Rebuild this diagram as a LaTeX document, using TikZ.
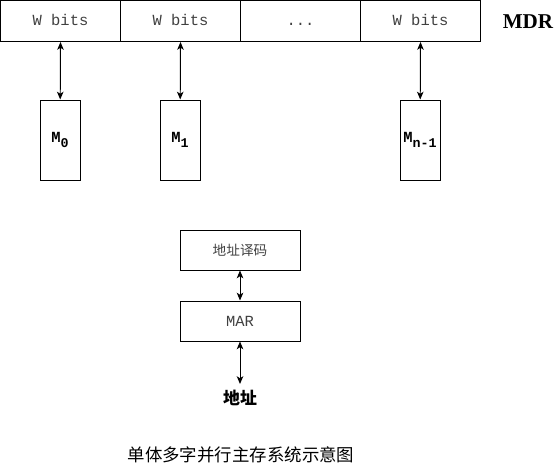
\documentclass[tikz,border=0pt]{standalone}
\usepackage{fontspec}
\setmainfont{Liberation Serif}
\setmonofont{Liberation Mono}
\newfontfamily\cjk{Noto Sans CJK SC}
\usetikzlibrary{positioning, arrows.meta}
\newcommand{\lowidx}[1]{\raisebox{-0.55ex}{\fontsize{9.5}{9.5}\selectfont #1}}

\begin{document}
\begin{tikzpicture}[line width=0.7pt, >={Stealth[length=5.5pt, width=4.6pt, inset=1.4pt]},
	cell/.style = {draw, minimum width=3cm, minimum height=1.025cm, inner sep=0pt, text height=6.5pt, text depth=0.3pt, text=black!75, font=\ttfamily\fontsize{11}{11}\selectfont},
	bank/.style = {draw, minimum width=1cm, minimum height=2cm, inner sep=0pt, font=\ttfamily\bfseries\fontsize{11}{11}\selectfont},
	unit/.style = {draw, minimum width=3cm, minimum height=1cm, inner sep=0pt, text=black!75}]
	\useasboundingbox (0,0) rectangle (13.925,-11.775);
	% MDR cells
	\node[cell] (w0) at (1.5125,-0.525) {W bits};
	\node[cell] (w1) at (4.5125,-0.525) {W bits};
	\node[cell] (w2) at (7.5125,-0.525) {...};
	\node[cell] (w3) at (10.5125,-0.525) {W bits};
	\node[font=\bfseries\fontsize{15}{15}\selectfont] (mdr) at (13.2,-0.55) {MDR};
	% banks
	\node[bank] (m0) at (1.5,-3.5) {M\lowidx{0}};
	\node[bank] (m1) at (4.5,-3.5) {M\lowidx{1}};
	\node[bank] (m3) at (10.5,-3.5) {M\lowidx{n-1}};
	\draw[<->] (w0.south) -- (m0);
	\draw[<->] (w1.south) -- (m1);
	\draw[<->] (w3.south) -- (m3);
	% address path
	\node[unit, font=\cjk\fontsize{9.7}{10}\selectfont] (dec) at (6,-6.25) {地址译码};
	\node[unit, below=0.75cm of dec, font=\ttfamily\fontsize{11}{11}\selectfont] (mar) {MAR};
	\draw[<->] (dec) -- (mar);
	\coordinate (bus) at (6,-9.6);
	\draw[<->] (mar) -- (bus);
	\node[font=\cjk\bfseries\fontsize{12}{12}\selectfont] (addr) at (6,-9.95) {地址};
	\node[font=\cjk\fontsize{12.4}{13}\selectfont] (title) at (6.025,-11.375) {单体多字并行主存系统示意图};
\end{tikzpicture}
\end{document}
